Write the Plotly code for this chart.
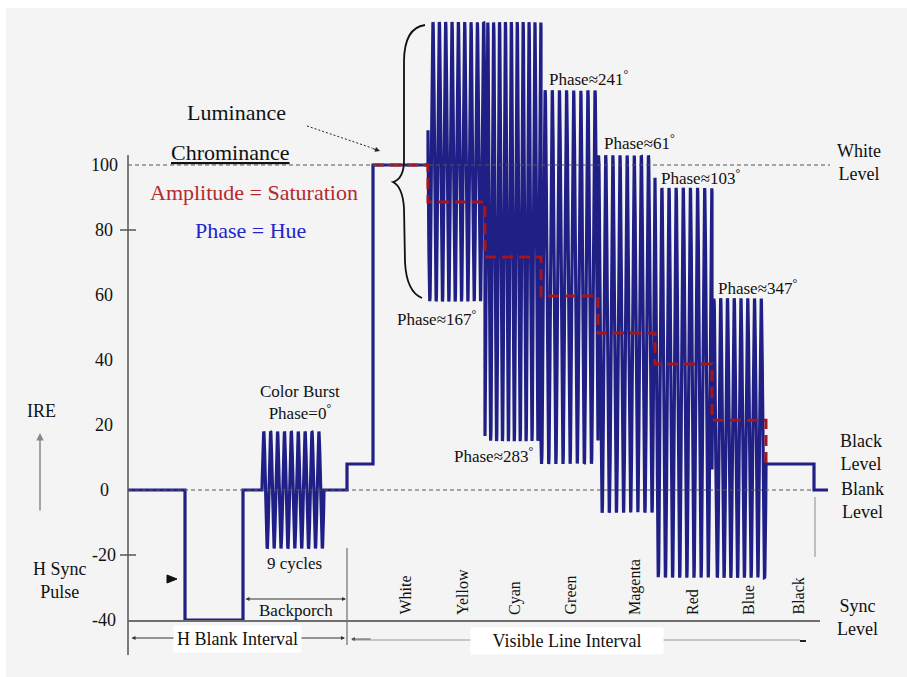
import numpy as np
import plotly.graph_objects as go

# ---------------- data ----------------
# horizontal time positions (arbitrary line-time units) of the timing edges
t_line_start = 128
t_sync_start = 185
t_sync_end = 243
t_burst_start = 262
t_burst_end = 324
t_setup_start = 347
t_active_start = 373
t_white_end = 428
bar_edges = [428, 485, 541, 598, 655, 712, 766]
t_black_end = 814
t_line_end = 828

# signal levels (IRE)
blank_level = 0
sync_level = -40
black_level = 8
white_level = 100

# colour burst
burst_amplitude = 18
burst_cycles = 9
burst_phase = 0

# colour bars (after the white bar)
bar_names = ["Yellow", "Cyan", "Green", "Magenta", "Red", "Blue"]
bar_luma = [88.6, 71.7, 59.7, 48.3, 38.8, 21.5]
chroma_top = [144, 144, 123, 103, 93, 59]
chroma_bottom = [58, 15, 8, -7, -27, -27]
chroma_phase = [167, 283, 241, 61, 103, 347]
chroma_cycles = [9, 9.5, 8, 8, 8, 8]

bar_labels = ["White", "Yellow", "Cyan", "Green", "Magenta", "Red", "Blue", "Black"]
bar_label_pos = [405, 462, 515, 570, 635, 692, 748, 798]

ytick_vals = [100, 80, 60, 40, 20, 0, -20, -40]
ytick_labels = ["100", "80", "60", "40", "20", "0", "-20", "-40"]
ytick_marks = [80, -20]

# ---------------- layout helpers ----------------
W, H = 907, 677
PX0, PPI = 490.0, 3.25          # pixel row of 0 IRE, pixels per IRE


def Y(py):
    return (PX0 - py) / PPI


SERIF = "Liberation Serif"
NAVY = "#1f1f86"
DRED = "#a3161b"
GRAY = "#6e6e6e"

# ---------------- signal ----------------
xs = [t_line_start, t_sync_start, t_sync_start, t_sync_end, t_sync_end, t_burst_start]
ys = [blank_level, blank_level, sync_level, sync_level, blank_level, blank_level]

tb = np.linspace(t_burst_start, t_burst_end, 400)
yb = blank_level + burst_amplitude * np.sin(
    2 * np.pi * burst_cycles * (tb - t_burst_start) / (t_burst_end - t_burst_start) + np.radians(burst_phase))
xs += list(tb)
ys += list(yb)

xs += [t_setup_start, t_setup_start, t_active_start, t_active_start, t_white_end]
ys += [blank_level, black_level, black_level, white_level, white_level]

for i in range(len(bar_names)):
    e0, e1 = bar_edges[i], bar_edges[i + 1]
    c = (chroma_top[i] + chroma_bottom[i]) / 2
    a = (chroma_top[i] - chroma_bottom[i]) / 2
    t = np.linspace(e0, e1, int(chroma_cycles[i] * 40))
    y = c + a * np.sin(2 * np.pi * chroma_cycles[i] * (t - e0) / (e1 - e0) + np.radians(chroma_phase[i]))
    xs += list(t)
    ys += list(y)

xs += [bar_edges[-1], t_black_end, t_black_end, t_line_end]
ys += [black_level, black_level, blank_level, blank_level]

# luminance staircase
lx = [t_active_start, t_white_end]
ly = [white_level, white_level]
for i in range(len(bar_names)):
    lx += [bar_edges[i], bar_edges[i + 1]]
    ly += [bar_luma[i], bar_luma[i]]
lx += [bar_edges[-1]]
ly += [black_level]

fig = go.Figure()
fig.add_trace(go.Scatter(x=xs, y=ys, mode="lines", line=dict(color=NAVY, width=3.2),
                         hoverinfo="skip", showlegend=False))
fig.add_trace(go.Scatter(x=lx, y=ly, mode="lines", line=dict(color=DRED, width=3, dash="11px,6px"),
                         hoverinfo="skip", showlegend=False))

# ---------------- decorations ----------------
shapes = []
# gray panel background
shapes.append(dict(type="rect", xref="paper", yref="paper", x0=6 / W, x1=1, y0=0, y1=1 - 8 / H,
                   fillcolor="#f4f4f4", line=dict(width=0), layer="below"))
# y axis line
shapes.append(dict(type="line", x0=128, x1=128, y0=Y(155), y1=Y(655), line=dict(color="#555", width=1.5), layer="above"))
for v in ytick_marks:
    shapes.append(dict(type="line", x0=120, x1=136, y0=v, y1=v, line=dict(color="#555", width=1.5)))
# white level and blank level dashed lines
shapes.append(dict(type="line", x0=128, x1=830, y0=white_level, y1=white_level,
                   line=dict(color="#555", width=1.2, dash="4px,3px"), layer="above"))
shapes.append(dict(type="line", x0=128, x1=814, y0=blank_level, y1=blank_level,
                   line=dict(color="#555", width=1.2, dash="4px,3px"), layer="above"))
# sync level line
shapes.append(dict(type="line", x0=128, x1=820, y0=Y(621), y1=Y(621), line=dict(color=GRAY, width=2)))
# vertical separators
shapes.append(dict(type="line", x0=347, x1=347, y0=Y(548), y1=Y(645), line=dict(color=GRAY, width=1.2)))
shapes.append(dict(type="line", x0=815, x1=815, y0=Y(497), y1=Y(557), line=dict(color="#9a9a9a", width=1.2)))
# visible line interval line
shapes.append(dict(type="line", x0=352, x1=800, y0=Y(640), y1=Y(640), line=dict(color="#9a9a9a", width=1.2)))
shapes.append(dict(type="line", x0=800, x1=806, y0=Y(641), y1=Y(641), line=dict(color="#222", width=2)))
# luminance dotted arrow
shapes.append(dict(type="line", x0=307, x1=372, y0=Y(126), y1=Y(148), line=dict(color="#222", width=1, dash="2px,2px")))


def path(pts_cmds):
    out = []
    for cmd, pts in pts_cmds:
        coords = " ".join(f"{px},{Y(py):.3f}" for px, py in pts)
        out.append(f"{cmd} {coords}")
    return " ".join(out)


brace = path([("M", [(425, 25)]),
              ("C", [(410, 27), (404, 40), (404, 62)]),
              ("L", [(404, 160)]),
              ("C", [(404, 172), (400, 180), (393, 182)]),
              ("C", [(399, 185), (403, 193), (404, 208)]),
              ("L", [(405, 262)]),
              ("C", [(406, 282), (412, 294), (422, 298)])])
shapes.append(dict(type="path", path=brace, line=dict(color="#111", width=1.8)))
# small sync arrow marker
tri = path([("M", [(167, 575)]), ("L", [(177, 579)]), ("L", [(167, 583)])]) + " Z"
shapes.append(dict(type="path", path=tri, fillcolor="#111", line=dict(color="#111", width=1)))

annotations = []


def ann(text, px, py, size=17, color="#111", **kw):
    d = dict(x=px, y=Y(py), xref="x", yref="y", text=text, showarrow=False,
             font=dict(family=SERIF, size=size, color=color))
    d.update(kw)
    annotations.append(d)


# tick labels
for v, lab in zip(ytick_vals, ytick_labels):
    annotations.append(dict(x=104, y=v, xref="x", yref="y", text=lab, showarrow=False,
                            font=dict(family=SERIF, size=18, color="#111")))

ann("Luminance", 236, 112, size=22)
ann("<u>Chrominance</u>", 230, 152, size=22)
ann("Amplitude = Saturation", 254, 192, size=22, color="#b5292e")
ann("Phase = Hue", 250, 230, size=22, color="#2424c8")

ann("Phase≈167<sup>°</sup>", 437, 318, size=17)
ann("Phase≈283<sup>°</sup>", 494, 455, size=17)
ann("Phase≈241<sup>°</sup>", 589, 78, size=17)
ann("Phase≈61<sup>°</sup>", 639, 142, size=17)
ann("Phase≈103<sup>°</sup>", 701, 177, size=17)
ann("Phase≈347<sup>°</sup>", 758, 287, size=17)

ann("White<br>Level", 859, 162, size=18)
ann("Black<br>Level", 861, 452, size=18)
ann("Blank<br>Level", 862, 500, size=18)
ann("Sync<br>Level", 857, 617, size=18)

ann("IRE", 41, 411, size=18)
ann("H Sync<br>Pulse", 60, 580, size=18)
ann("Color Burst<br>Phase=0<sup>°</sup>", 300, 402, size=17)
ann("9 cycles", 294, 563, size=17)
ann("Backporch", 296, 610, size=17)
ann("H Blank Interval", 237, 639, size=18, bgcolor="white", borderpad=3)
ann("Visible Line Interval", 567, 641, size=18, bgcolor="white", width=190, height=24)

for name, px in zip(bar_labels, bar_label_pos):
    ann(name, px, 617, size=16, textangle=-90, yanchor="bottom")

# arrows
annotations.append(dict(x=40, y=Y(433), ax=40, ay=Y(512), xref="x", yref="y", axref="x", ayref="y",
                        text="", showarrow=True, arrowhead=2, arrowsize=1, arrowwidth=1.5, arrowcolor="#888"))
annotations.append(dict(x=380, y=Y(151), ax=371, ay=Y(148), xref="x", yref="y", axref="x", ayref="y",
                        text="", showarrow=True, arrowhead=2, arrowsize=1, arrowwidth=1, arrowcolor="#222"))
annotations.append(dict(x=346, y=Y(599), ax=244, ay=Y(599), xref="x", yref="y", axref="x", ayref="y",
                        text="", showarrow=True, arrowhead=2, arrowside="end+start", arrowsize=0.8,
                        arrowwidth=1, arrowcolor="#333"))
annotations.append(dict(x=345, y=Y(638), ax=130, ay=Y(638), xref="x", yref="y", axref="x", ayref="y",
                        text="", showarrow=True, arrowhead=2, arrowside="end+start", arrowsize=0.8,
                        arrowwidth=1, arrowcolor="#333"))
annotations.append(dict(x=351, y=Y(639), ax=372, ay=Y(639), xref="x", yref="y", axref="x", ayref="y",
                        text="", showarrow=True, arrowhead=2, arrowsize=0.8, arrowwidth=1, arrowcolor="#555"))

# label boxes drawn after the arrow lines
annotations.sort(key=lambda a: 0 if a.get("showarrow") else 1)

fig.update_layout(
    width=W, height=H, margin=dict(l=0, r=0, t=0, b=0),
    paper_bgcolor="white", plot_bgcolor="rgba(0,0,0,0)",
    xaxis=dict(range=[0, W], visible=False, fixedrange=True),
    yaxis=dict(range=[Y(H), Y(0)], visible=False, fixedrange=True),
    shapes=shapes, annotations=annotations, showlegend=False,
)

fig.write_html("out.html", config={"displayModeBar": False},
               post_script="document.body.style.margin='0';")
